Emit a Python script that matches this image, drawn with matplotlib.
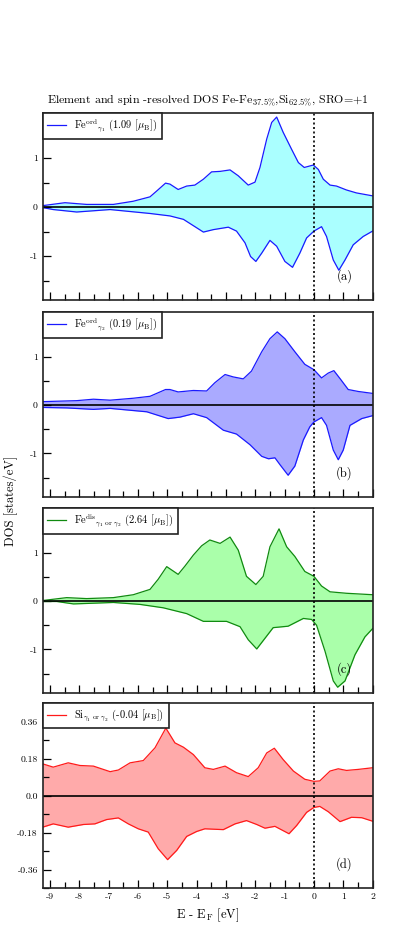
import matplotlib
matplotlib.use("Agg")
import matplotlib.pyplot as plt
from matplotlib.ticker import MultipleLocator

plt.rcParams['font.family'] = 'serif'
plt.rcParams['font.serif'] = ['cmr10', 'DejaVu Serif']
plt.rcParams['mathtext.fontset'] = 'cm'
plt.rcParams['axes.unicode_minus'] = False

# --- datos (energia en eV, DOS en estados/eV) ---
# (a) Fe ord gamma1
e_a_up = [-9.25, -8.49, -7.75, -6.84, -6.16, -5.59, -5.36, -5.06, -4.91, -4.63, -4.34, -4.06, -3.77, -3.49,
          -3.2, -2.86, -2.58, -2.24, -2.01, -1.84, -1.61, -1.44, -1.27, -1.05, -0.76, -0.53, -0.33, -0.02,
          0.15, 0.32, 0.55, 0.77, 1.11, 1.45, 2.0]
dos_a_up = [0.03, 0.09, 0.055, 0.055, 0.12, 0.21, 0.33, 0.49, 0.47, 0.36, 0.43, 0.45, 0.57, 0.72,
            0.73, 0.76, 0.64, 0.45, 0.51, 0.81, 1.39, 1.73, 1.84, 1.53, 1.18, 0.91, 0.81, 0.86,
            0.77, 0.57, 0.45, 0.43, 0.35, 0.29, 0.23]
e_a_dn = [-9.25, -8.89, -8.09, -6.95, -5.59, -4.91, -4.45, -4.11, -3.77, -3.43, -2.92, -2.64, -2.35, -2.16,
          -1.98, -1.78, -1.5, -1.27, -0.99, -0.73, -0.48, -0.25, 0.0, 0.26, 0.43, 0.66, 0.85, 1.06, 1.34,
          1.68, 2.0]
dos_a_dn = [-0.01, -0.05, -0.10, -0.05, -0.13, -0.18, -0.25, -0.38, -0.51, -0.46, -0.41, -0.49, -0.73, -1.01,
            -1.11, -0.94, -0.68, -0.80, -1.11, -1.23, -0.94, -0.63, -0.49, -0.40, -0.60, -1.08, -1.29, -1.08,
            -0.77, -0.60, -0.49]

# (b) Fe ord gamma2
e_b_up = [-9.25, -8.09, -7.52, -6.95, -6.16, -5.59, -5.06, -4.91, -4.63, -4.11, -3.66, -3.38, -3.03, -2.75,
          -2.41, -2.13, -1.78, -1.5, -1.25, -0.99, -0.65, -0.31, 0.0, 0.26, 0.49, 0.68, 0.91, 1.17, 1.51, 2.0]
dos_b_up = [0.07, 0.09, 0.12, 0.10, 0.14, 0.18, 0.32, 0.32, 0.27, 0.30, 0.29, 0.46, 0.63, 0.58,
            0.54, 0.70, 1.10, 1.37, 1.51, 1.37, 1.10, 0.84, 0.73, 0.56, 0.66, 0.71, 0.53, 0.32, 0.28, 0.24]
e_b_dn = [-9.25, -8.43, -7.52, -6.95, -5.7, -4.97, -4.57, -4.11, -3.66, -3.09, -2.64, -2.18, -1.78, -1.55,
          -1.33, -1.16, -0.88, -0.65, -0.36, -0.14, 0.0, 0.26, 0.43, 0.66, 0.83, 1.0, 1.23, 1.63, 2.0]
dos_b_dn = [-0.05, -0.06, -0.09, -0.07, -0.14, -0.28, -0.25, -0.18, -0.26, -0.52, -0.60, -0.82, -1.06, -1.11,
            -1.09, -1.23, -1.45, -1.26, -0.72, -0.45, -0.35, -0.26, -0.42, -0.93, -1.13, -0.93, -0.42,
            -0.28, -0.22]

# (c) Fe dis gamma1 o gamma2
e_c_up = [-9.25, -8.43, -7.75, -6.84, -6.16, -5.59, -5.31, -5.02, -4.63, -4.4, -4.11, -3.83, -3.55, -3.2,
          -2.86, -2.58, -2.3, -1.98, -1.73, -1.5, -1.19, -0.93, -0.65, -0.31, 0.0, 0.26, 0.55, 1.11, 2.0]
dos_c_up = [0.01, 0.07, 0.05, 0.07, 0.13, 0.24, 0.45, 0.71, 0.55, 0.72, 0.95, 1.14, 1.26, 1.19,
            1.32, 1.05, 0.51, 0.34, 0.51, 1.12, 1.49, 1.12, 0.92, 0.61, 0.51, 0.31, 0.19, 0.16, 0.13]
e_c_dn = [-9.25, -8.77, -8.2, -6.84, -5.93, -5.14, -4.34, -3.77, -2.98, -2.52, -2.24, -1.95, -1.67, -1.39,
          -0.88, -0.36, -0.08, 0.09, 0.38, 0.66, 0.81, 1.06, 1.4, 1.74, 2.0]
dos_c_dn = [-0.01, -0.01, -0.06, -0.03, -0.07, -0.14, -0.26, -0.42, -0.42, -0.53, -0.80, -0.99, -0.77, -0.55,
            -0.52, -0.36, -0.38, -0.50, -1.04, -1.65, -1.78, -1.65, -1.11, -0.74, -0.57]

# (d) Si gamma1 o gamma2
e_d_up = [-9.25, -8.89, -8.38, -7.98, -7.52, -6.95, -6.67, -6.27, -5.82, -5.42, -5.05, -4.74, -4.45, -4.11,
          -3.72, -3.43, -3.03, -2.64, -2.24, -1.9, -1.61, -1.35, -1.05, -0.7, -0.31, 0.0, 0.2, 0.55, 0.83,
          1.11, 1.51, 2.0]
dos_d_up = [0.154, 0.138, 0.159, 0.146, 0.143, 0.116, 0.124, 0.159, 0.170, 0.232, 0.328, 0.256, 0.235, 0.199,
            0.135, 0.127, 0.143, 0.111, 0.092, 0.135, 0.207, 0.230, 0.175, 0.119, 0.079, 0.069, 0.071, 0.119,
            0.130, 0.122, 0.127, 0.135]
e_d_dn = [-9.25, -8.89, -8.38, -7.86, -7.47, -7.07, -6.67, -6.33, -5.99, -5.65, -5.31, -4.99, -4.68, -4.34,
          -4.0, -3.72, -3.09, -2.69, -2.3, -1.95, -1.67, -1.33, -0.85, -0.59, -0.25, 0.0, 0.2, 0.49, 0.89,
          1.28, 1.63, 2.0]
dos_d_dn = [-0.154, -0.138, -0.154, -0.141, -0.138, -0.117, -0.109, -0.138, -0.162, -0.178, -0.259, -0.312,
            -0.267, -0.199, -0.175, -0.162, -0.166, -0.138, -0.122, -0.141, -0.159, -0.150, -0.186, -0.146,
            -0.082, -0.058, -0.053, -0.079, -0.127, -0.106, -0.108, -0.125]

etiquetas = [r'Fe$^{\mathrm{ord}}$$_{\gamma_1}$ (1.09 [$\mu_{\mathrm{B}}$])',
             r'Fe$^{\mathrm{ord}}$$_{\gamma_2}$ (0.19 [$\mu_{\mathrm{B}}$])',
             r'Fe$^{\mathrm{dis}}$$_{\gamma_1\ \mathrm{or}\ \gamma_2}$ (2.64 [$\mu_{\mathrm{B}}$])',
             r'Si$_{\gamma_1\ \mathrm{or}\ \gamma_2}$ (-0.04 [$\mu_{\mathrm{B}}$])']
letras = ['(a)', '(b)', '(c)', '(d)']
colores_linea = ['#1a1aff', '#1a1aff', '#108a10', '#ff1a1a']
colores_relleno = ['#aaffff', '#aaaaff', '#aaffaa', '#ffaaaa']

paneles = [(e_a_up, dos_a_up, e_a_dn, dos_a_dn),
           (e_b_up, dos_b_up, e_b_dn, dos_b_dn),
           (e_c_up, dos_c_up, e_c_dn, dos_c_dn),
           (e_d_up, dos_d_up, e_d_dn, dos_d_dn)]

fig = plt.figure(figsize=(4.16, 9.32), dpi=100)
bottoms = [0.678, 0.4667, 0.2564, 0.0472]
alturas = [0.2006, 0.1985, 0.1985, 0.1985]

for i, (eu, du, ed, dd) in enumerate(paneles):
    ax = fig.add_axes([0.1026, bottoms[i], 0.793, alturas[i]])
    ax.fill_between(eu, 0, du, color=colores_relleno[i], lw=0)
    ax.fill_between(ed, dd, 0, color=colores_relleno[i], lw=0)
    ax.plot(eu, du, color=colores_linea[i], lw=0.9, label=etiquetas[i], solid_joinstyle='round')
    ax.plot(ed, dd, color=colores_linea[i], lw=0.9, solid_joinstyle='round')
    ax.axhline(0, color='black', lw=1.2)
    ax.axvline(0, color='black', lw=1.2, ls=(0, (1.2, 1.5)))
    ax.set_xlim(-9.25, 2)

    if i < 3:
        ax.set_ylim(-1.9, 1.92)
        ax.set_yticks([-1, 0, 1], ['-1', '0', '1'])
        ax.yaxis.set_minor_locator(MultipleLocator(0.5))
    else:
        ax.set_ylim(-0.45, 0.45)
        ax.set_yticks([-0.36, -0.18, 0, 0.18, 0.36], ['-0.36', '-0.18', '0.0', '0.18', '0.36'])
        ax.yaxis.set_minor_locator(MultipleLocator(0.09))

    ax.set_xticks(range(-9, 3))
    ax.xaxis.set_minor_locator(MultipleLocator(0.5))
    if i == 3:
        ax.set_xticklabels([str(v) for v in range(-9, 3)])
        ax.set_xlabel(r'E - E$_{\mathrm{F}}$ [eV]', fontsize=9, labelpad=4)
    else:
        ax.set_xticklabels([])

    ax.tick_params(which='both', direction='in', labelsize=7, top=False, right=False)
    ax.tick_params(which='major', length=6, width=0.9)
    ax.tick_params(which='minor', length=4, width=0.9)
    for s in ax.spines.values():
        s.set_linewidth(1.2)
        s.set_color('#222222')

    leg = ax.legend(loc='upper left', fontsize=7.5, handlelength=1.8, borderaxespad=0,
                    fancybox=False, framealpha=1, edgecolor='#222222', borderpad=0.45)
    leg.get_frame().set_linewidth(1.2)

    ax.text(0.915, 0.13, letras[i], transform=ax.transAxes, ha='center', va='center', fontsize=9)

    if i == 0:
        ax.set_title(r'Element and spin -resolved DOS Fe-Fe$_{37.5\%}$,Si$_{62.5\%}$, SRO=+1',
                     fontsize=8.6, pad=7)

fig.text(0.025, 1 - 500.5 / 932, 'DOS [states/eV]', rotation=90, ha='center', va='center', fontsize=9)

fig.savefig('out.png', dpi=100)
